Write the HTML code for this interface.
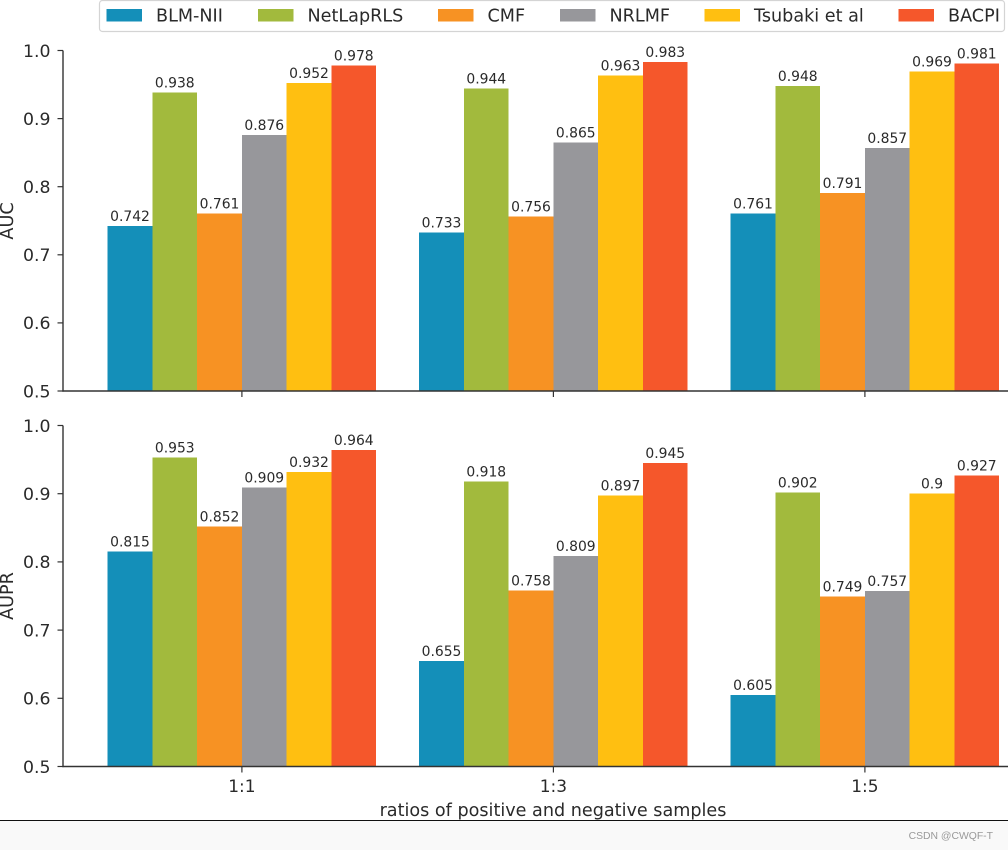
<!DOCTYPE html>
<html lang="en">
<head>
<meta charset="utf-8">
<title>AUC and AUPR bar chart</title>
<style>
html,body{margin:0;padding:0;background:#fff;}
body{width:1008px;height:850px;overflow:hidden;position:relative;}
svg{position:absolute;left:0;top:0;display:block;filter:blur(0.35px);}
text{font-family:"DejaVu Sans",sans-serif;fill:#2a2a2a;}
</style>
</head>
<body>
<svg id="chart" width="1008" height="850" viewBox="0 0 1008 850" xmlns="http://www.w3.org/2000/svg"></svg>
<script>
const categories = ["1:1", "1:3", "1:5"];
const methods = ["BLM-NII", "NetLapRLS", "CMF", "NRLMF", "Tsubaki et al", "BACPI"];
const colors = ["#148fb9", "#a2ba3d", "#f79223", "#97979b", "#ffbf11", "#f5572b"];
const aucBlmNii = [0.742, 0.733, 0.761];
const aucNetLapRls = [0.938, 0.944, 0.948];
const aucCmf = [0.761, 0.756, 0.791];
const aucNrlmf = [0.876, 0.865, 0.857];
const aucTsubaki = [0.952, 0.963, 0.969];
const aucBacpi = [0.978, 0.983, 0.981];
const auprBlmNii = [0.815, 0.655, 0.605];
const auprNetLapRls = [0.953, 0.918, 0.902];
const auprCmf = [0.852, 0.758, 0.749];
const auprNrlmf = [0.909, 0.809, 0.757];
const auprTsubaki = [0.932, 0.897, 0.9];
const auprBacpi = [0.964, 0.945, 0.927];
const yTicks = [0.5, 0.6, 0.7, 0.8, 0.9, 1.0];
const yMin = 0.5;
const yMax = 1.0;

const aucSeries = [aucBlmNii, aucNetLapRls, aucCmf, aucNrlmf, aucTsubaki, aucBacpi];
const auprSeries = [auprBlmNii, auprNetLapRls, auprCmf, auprNrlmf, auprTsubaki, auprBacpi];

const svg = document.getElementById('chart');
const NS = 'http://www.w3.org/2000/svg';
const AXIS = '#333333';

function make(tag, attrs, text) {
  const el = document.createElementNS(NS, tag);
  for (const k in attrs) el.setAttribute(k, attrs[k]);
  if (text !== undefined) el.textContent = text;
  return el;
}

// x axis function: band position of a group centre and bar offset
const firstCenter = 241.9;
const groupStep = 311.5;
const barWidth = 44.75;
function xCenter(i) { return firstCenter + i * groupStep; }
function xBar(i, s) { return xCenter(i) + (s - methods.length / 2) * barWidth; }

function drawPanel(name, title, series, top, bottom, titleY) {
  function y(v) { return bottom - (v - yMin) / (yMax - yMin) * (bottom - top); }
  const g = make('g', {});
  
  
  svg.appendChild(g);

  series.forEach(function (vals, s) {
    vals.forEach(function (v, i) {
      const bar = make('rect', { x: xBar(i, s), y: y(v), width: barWidth, height: y(yMin) - y(v), fill: colors[s], 'shape-rendering': 'crispEdges' });
      
      
      g.appendChild(bar);
      const label = make('text', { x: xBar(i, s) + barWidth / 2, y: y(v) - 5, 'text-anchor': 'middle', 'font-size': 13.9 }, String(v));
      
      
      g.appendChild(label);
    });
  });

  const ySpine = make('line', { x1: 63, x2: 63, y1: y(yMax), y2: y(yMin) + 0.6, stroke: AXIS, 'stroke-width': 1.4 });
  
  
  g.appendChild(ySpine);

  const xSpine = make('line', { x1: 62.4, x2: 1008, y1: y(yMin), y2: y(yMin), stroke: AXIS, 'stroke-width': 1.4 });
  
  
  g.appendChild(xSpine);

  yTicks.forEach(function (t) {
    const tick = make('line', { x1: 57.5, x2: 63, y1: y(t), y2: y(t), stroke: AXIS, 'stroke-width': 1.2 });
    
    
    g.appendChild(tick);
    const lab = make('text', { x: 50.5, y: y(t) + 6.3, 'text-anchor': 'end', 'font-size': 17.3 }, t.toFixed(1));
    
    
    g.appendChild(lab);
  });

  categories.forEach(function (c, i) {
    const tick = make('line', { x1: xCenter(i), x2: xCenter(i), y1: y(yMin), y2: y(yMin) + 6, stroke: AXIS, 'stroke-width': 1.2 });
    
    
    g.appendChild(tick);
  });

  const t = make('text', { transform: 'translate(13,' + titleY + ') rotate(-90)', 'text-anchor': 'middle', 'font-size': 17.6 }, title);
  
  
  g.appendChild(t);
}

drawPanel('auc', 'AUC', aucSeries, 50.5, 391, 221);
drawPanel('aupr', 'AUPR', auprSeries, 425.5, 766.5, 596);

categories.forEach(function (c, i) {
  const lab = make('text', { x: xCenter(i), y: 792, 'text-anchor': 'middle', 'font-size': 17 }, c);
  
  
  svg.appendChild(lab);
});

const xTitle = make('text', { x: 553, y: 816, 'text-anchor': 'middle', 'font-size': 17.6 }, 'ratios of positive and negative samples');


svg.appendChild(xTitle);

// legend
const legend = make('g', {});


svg.appendChild(legend);
const legendBox = make('rect', { x: 99.5, y: 0.5, width: 905, height: 31, rx: 3, ry: 3, fill: '#fff', stroke: '#d4d4d4', 'stroke-width': 1.2 });


legend.appendChild(legendBox);
const legendX = [106.5, 258, 438, 560, 704.5, 898.5];
methods.forEach(function (m, s) {
  const swatch = make('rect', { x: legendX[s], y: 9, width: 35.5, height: 12.5, fill: colors[s] });
  
  
  legend.appendChild(swatch);
  const lab = make('text', { x: legendX[s] + 49.5, y: 21.5, 'font-size': 17.6 }, m);
  
  
  legend.appendChild(lab);
});

// footer strip and watermark
const footer = make('rect', { x: 0, y: 821, width: 1008, height: 29, fill: '#f9f9f9' });


svg.appendChild(footer);
const footerLine = make('line', { x1: 0, x2: 1008, y1: 820.5, y2: 820.5, stroke: '#111', 'stroke-width': 1 });


svg.appendChild(footerLine);
const mark = make('text', { x: 993, y: 839, 'text-anchor': 'end', 'font-size': 10.4, style: 'font-family:"Liberation Sans",sans-serif;fill:#999' }, 'CSDN @CWQF-T');


svg.appendChild(mark);
</script>
</body>
</html>
